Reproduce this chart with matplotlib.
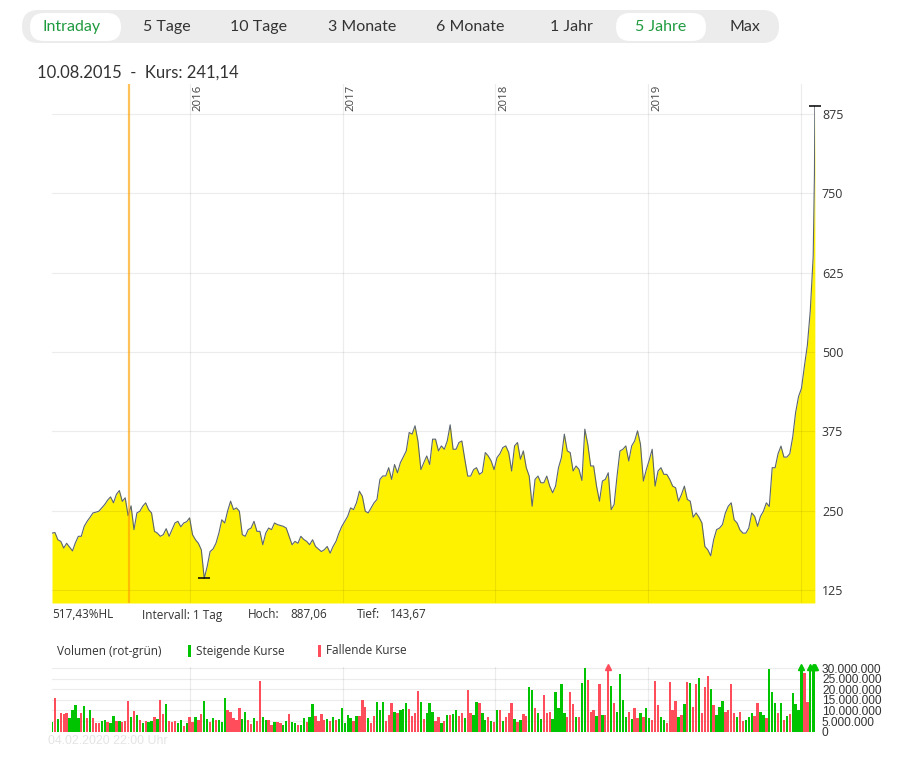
import numpy as np
import pandas as pd
import matplotlib
matplotlib.use("Agg")
import matplotlib.pyplot as plt
from matplotlib.patches import FancyBboxPatch, Rectangle

# ── DATA ────────────────────────────────────────────────────────
# weekly closes (Fridays) starting 2015-02-06, then the last two trading days
week_start = "2015-02-06"
close_weekly = [
    215, 216, 204.6, 202, 191.5, 199, 193, 187, 200, 210,
    210, 225.7, 233.6, 240, 246.8, 248, 249.5, 254.7, 260, 267,
    272, 262.7, 276, 282, 265, 270.6, 242.5, 258, 220.5, 246.8,
    249.5, 257.4, 262.7, 252, 246.8, 217.8, 215, 210, 212.6, 222,
    210, 220.5, 231, 233.6, 225, 231, 233, 239, 212.6, 204.6,
    199, 188.8, 143.67, 162.4, 186, 190, 199, 215, 236, 231,
    250, 265.3, 252, 254.7, 249.5, 212.6, 210, 220.5, 223, 233.6,
    217.8, 217.8, 196.7, 215, 223, 220.5, 231, 228.4, 227, 225.7,
    223, 210, 196.7, 202, 199, 210, 205, 202, 196.7, 204.6,
    194, 190, 186, 188.8, 194, 183.5, 194, 202, 215, 225.7,
    233.6, 241.5, 254.7, 252, 262.7, 281, 273, 249.5, 246.8, 254.7,
    262.7, 268, 299.6, 305, 305, 318, 299.6, 323, 310, 326,
    335, 344.4, 373.4, 370.8, 384, 360, 315, 326, 336.5, 323,
    362.9, 362.9, 344.4, 352.3, 347, 360, 385.5, 347, 347, 357.6,
    360, 331.3, 304.8, 304.8, 315, 318, 307.5, 311, 341.8, 336.5,
    328.6, 315, 333.9, 340, 349.7, 352.3, 341.8, 312.8, 352.3, 357.6,
    331.3, 344.4, 318, 304.8, 257.4, 299.6, 304.8, 294.3, 294.3, 304.8,
    289, 278.5, 289, 318, 333.9, 370.8, 344.4, 341.8, 312.8, 320.7,
    315.4, 298, 378.7, 355, 320.7, 320.7, 289, 265.3, 297, 299.6,
    310, 252, 260, 304.8, 344.4, 347, 352.3, 328.6, 352.3, 360,
    376, 355, 297, 315, 330, 347, 289, 312.8, 318, 307.5,
    307.5, 299.6, 289, 286.4, 265.3, 275.8, 289, 268, 265.3, 240,
    246.8, 240, 231, 194, 188.8, 179.3, 204.6, 220.5, 223, 228.4,
    246.8, 257.4, 262.7, 236, 231, 220, 215, 215, 223, 246.8,
    241.5, 225.7, 241.5, 249.5, 262.7, 256.95, 318, 318, 340, 352,
    334.7, 334.7, 340, 366, 405, 430, 443, 478, 510.5, 564.8,
    650.57,
]
last_days = ["2020-02-03", "2020-02-04"]
close_last = [780.0, 887.06]

# volume in millions of shares, same dates as the closes
volume_mio = [
    4.5, 16, 6, 9, 8.4, 9, 6.5, 10, 12.6, 6.3,
    8.7, 12, 6.3, 10, 6.3, 4, 4, 5, 5.5, 4.8,
    4, 7.4, 5, 5, 4.5, 5, 14.5, 7, 9.8, 8,
    5.5, 4, 5, 4.5, 5, 6.8, 6, 15, 8.4, 13,
    5, 4.5, 5, 4.3, 5.5, 2.5, 4, 7, 4.4, 6.8,
    5.5, 8.4, 14.5, 6, 4.5, 6.3, 5.5, 5.5, 4.5, 16,
    10, 9.5, 6.3, 5.5, 11.4, 6, 9.5, 5.5, 3.5, 6.3,
    5, 23.7, 7, 5.5, 5.5, 3, 4.5, 4.8, 4.2, 3,
    5, 8.4, 4.8, 4, 3, 3.2, 6.3, 4.8, 7, 13,
    7.4, 5, 8.4, 5.5, 5.8, 5, 7, 5.5, 5.8, 11.4,
    4.3, 7.9, 6.3, 5, 7.4, 7.4, 15, 11.8, 6.3, 4,
    7.4, 13.9, 10, 14.2, 5, 8, 13.7, 9.5, 8.7, 10,
    10.7, 13.4, 10.7, 7.4, 8.7, 19.2, 14.2, 6, 8.7, 13.7,
    9.5, 5.2, 6.8, 4, 5, 7.9, 7.9, 8.4, 10.3, 7.4,
    9, 6.3, 19.7, 8.7, 7.9, 13.9, 13.4, 8.7, 5.5, 7,
    5, 4.4, 10.3, 10.3, 5.2, 6.8, 8.7, 13.4, 5.8, 4.4,
    5.5, 8.4, 7.4, 21.3, 19.7, 11, 8.7, 5.8, 17.4, 9,
    9.5, 5.8, 18.9, 11, 22.6, 8.7, 7, 18.6, 13.1, 6.8,
    7, 22.9, 30.2, 24.4, 9.5, 10.3, 7.4, 22.4, 7.9, 8,
    42, 21.6, 13.7, 9.5, 27.3, 15, 7, 9.5, 5.8, 11,
    6.3, 9, 6.8, 11.4, 6.3, 5.5, 23.7, 12.6, 7, 5.5,
    4, 23.2, 10.3, 14.5, 7, 7.9, 13, 23.2, 22.9, 11.8,
    22.6, 25.2, 8.7, 21, 26.3, 20, 12.6, 7.9, 11.8, 14.7,
    9.5, 10.3, 22.6, 9, 7, 9.5, 5.2, 5.5, 7, 9,
    7.4, 13.4, 9.5, 7.9, 6.3, 29.5, 18.9, 13.4, 8.7, 13.4,
    5.5, 7.4, 8.4, 18.1, 13.1, 10.3, 31, 27.6, 14, 34,
    35, 47, 60,
]
# g = steigende Kurse, r = fallende Kurse (colour of each volume bar)
volume_dir = (
    "grgrrrgggg rgrgrrrggr ggrgrrrgrg rgrggrgrrg rrrggrgrrg "
    "rrggrgrggg rrrrrggrrg rrggrrgrrg grggrggrgg rrrrgrgrgg "
    "gggrgrrrgr rgggrrrgrg ggrrrrgrgg grrgrgrggr rgrrggrggr "
    "grgrgrrrgr grrggrggrr rgggggrrrg rggrrrgrgr rgrggggrgr "
    "rgrggrrrgg rrrrgrgrgr rgrrrgrggg rrrrgrrggg rrggrgggrg "
    "rgrggggrrg ggg"
).replace(" ", "")

cursor_date = "2015-08-10"
cursor_kurs = 241.14

price_ticks = [125, 250, 375, 500, 625, 750, 875]
volume_ticks_mio = [0, 5, 10, 15, 20, 25, 30]
year_lines = ["2016", "2017", "2018", "2019", "2020"]
year_labels = ["2016", "2017", "2018", "2019"]
buttons = ["Intraday", "5 Tage", "10 Tage", "3 Monate", "6 Monate", "1 Jahr", "5 Jahre", "Max"]
active_buttons = ["Intraday", "5 Jahre"]

# ── STYLE ───────────────────────────────────────────────────────
YELLOW = "#fff200"
LINE = "#5b6570"
GREEN = "#00c400"
RED = "#ff4d5c"
TEXT = "#333333"
ACTIVE = "#1f9a3f"

W, H = 913, 762
fig = plt.figure(figsize=(W / 100, H / 100), dpi=100)
fig.patch.set_facecolor("white")


def frac(x0, y0, x1, y1):
    """pixel box (top-left origin) -> figure fraction rect"""
    return [x0 / W, 1 - y1 / H, (x1 - x0) / W, (y1 - y0) / H]


def de(v):
    return f"{v:.2f}".replace(".", ",")


# decoration layer in pixel coordinates
deco = fig.add_axes([0, 0, 1, 1])
deco.set_xlim(0, W)
deco.set_ylim(H, 0)
deco.axis("off")

# period buttons
deco.add_patch(FancyBboxPatch((22, 10), 757, 33, boxstyle="round,pad=0,rounding_size=16.5",
                              fc="#ececec", ec="none"))
btn_x = [72, 167, 259, 362, 470, 571, 661, 745]
btn_box = {"Intraday": (30, 121), "5 Jahre": (616, 706)}
for name, bx in zip(buttons, btn_x):
    active = name in active_buttons
    if active:
        x0, x1 = btn_box[name]
        deco.add_patch(FancyBboxPatch((x0, 13), x1 - x0, 28, boxstyle="round,pad=0,rounding_size=14",
                                      fc="white", ec="none"))
    deco.text(bx, 27, name, ha="center", va="center", fontsize=11.5, family="Lato",
              color=ACTIVE if active else TEXT)

kurs_txt = f"{pd.Timestamp(cursor_date):%d.%m.%Y}  -  Kurs: " + de(cursor_kurs)
deco.text(37, 73, kurs_txt, ha="left", va="center", fontsize=12, family="Lato", color=TEXT)

# ── PRICE CHART ─────────────────────────────────────────────────
dates = pd.date_range(week_start, periods=len(close_weekly), freq="7D").append(pd.to_datetime(last_days))
close = np.array(close_weekly + close_last, dtype=float)
x = dates.to_pydatetime()

ax = fig.add_axes(frac(52, 84, 815, 603))
ymin, ymax = 105, 922
ax.fill_between(x, close, ymin, color=YELLOW, lw=0, zorder=1)
ax.plot(x, close, color=LINE, lw=0.8, zorder=3)
ax.set_ylim(ymin, ymax)
ax.set_xlim(x[0], x[-1] + pd.Timedelta(hours=8))

ax.set_yticks(price_ticks)
ax.yaxis.tick_right()
ax.tick_params(axis="y", length=0, pad=5, labelsize=9, labelcolor=TEXT)
for lab in ax.get_yticklabels():
    lab.set_family("Open Sans")
ax.set_xticks(pd.to_datetime(year_lines).to_pydatetime())
ax.tick_params(axis="x", length=0, labelbottom=False)
ax.grid(True, color="black", alpha=0.075, lw=0.9)
ax.set_axisbelow("line")
for s in ax.spines.values():
    s.set_visible(False)
ax.patch.set_alpha(0)

for yl in year_labels:
    ax.annotate(yl, xy=(pd.Timestamp(yl + "-01-01"), 1), xycoords=("data", "axes fraction"),
                xytext=(6.2, -0.8), textcoords="offset points", rotation=90,
                ha="center", va="top", fontsize=8.2, family="Open Sans", color="#444444")

# cursor line
ax.axvline(pd.Timestamp(cursor_date), color="#ffa000", alpha=0.65, lw=1.6, zorder=4)

# high / low marks
i_hi, i_lo = int(np.argmax(close)), int(np.argmin(close))
hi, lo = close[i_hi], close[i_lo]
for i in (i_hi, i_lo):
    ax.plot([x[i]], [close[i]], marker="_", ms=8, mew=1.1, color="black", zorder=5, clip_on=False)

# stats line
sfont = dict(fontsize=8.5, family="Open Sans", color=TEXT, va="center", ha="left")
deco.text(52, 615, de((hi - lo) / lo * 100) + "%HL", **sfont)
deco.text(142, 615, "Intervall: 1 Tag", **sfont)
deco.text(248, 615, "Hoch:", **sfont)
deco.text(290, 615, de(hi), **sfont)
deco.text(357, 615, "Tief:", **sfont)
deco.text(390, 615, de(lo), **sfont)

# volume legend
deco.text(57, 651, "Volumen (rot-grün)", **sfont)
deco.add_patch(Rectangle((188, 645), 3, 12, fc=GREEN, ec="none"))
deco.text(196, 651, "Steigende Kurse", **sfont)
deco.add_patch(Rectangle((318, 645), 3, 12, fc=RED, ec="none"))
deco.text(326, 651, "Fallende Kurse", **sfont)

# ── VOLUME CHART ────────────────────────────────────────────────
vax = fig.add_axes(frac(52, 667, 815, 731.7))
vol = np.array(volume_mio) * 1e6
vtop = 30.5e6
gaps = np.r_[7.0, np.diff(dates.values).astype("timedelta64[h]").astype(float) / 24]
widths = np.minimum(gaps, 7.0) * 0.8
cols = [GREEN if d == "g" else RED for d in volume_dir]
vax.bar(x, vol, width=widths, color=cols, lw=0, zorder=2)
for xi, vi, ci in zip(x, vol, cols):
    if vi > vtop:
        vax.plot([xi], [vtop], marker="^", ms=4.5, color=ci, zorder=3, clip_on=False)

vax.set_ylim(0, vtop)
vax.set_xlim(ax.get_xlim())
vax.set_yticks([t * 1e6 for t in volume_ticks_mio])
vax.set_yticklabels([f"{t * 1000000:,}".replace(",", ".") for t in volume_ticks_mio])
vax.yaxis.tick_right()
vax.tick_params(axis="y", length=0, pad=5, labelsize=8.6, labelcolor=TEXT)
for lab in vax.get_yticklabels():
    lab.set_family("Liberation Sans")
vax.set_xticks(pd.to_datetime(year_lines).to_pydatetime())
vax.tick_params(axis="x", length=0, labelbottom=False)
vax.grid(True, color="black", alpha=0.075, lw=0.9)
vax.set_axisbelow(True)
for s in vax.spines.values():
    s.set_visible(False)

deco.text(48, 741, "04.02.2020 22:00 Uhr", ha="left", va="center", fontsize=8.9,
          family="Liberation Sans", color="#e4e4e4")

fig.savefig("out.png", dpi=100, facecolor="white")
